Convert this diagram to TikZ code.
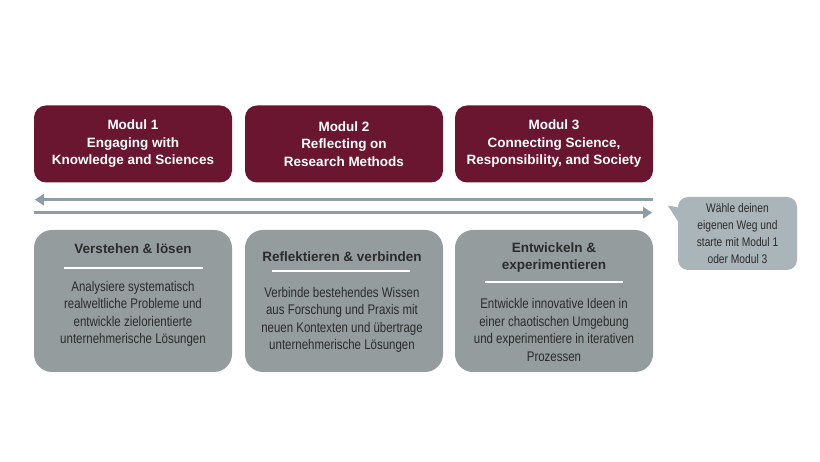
\documentclass[tikz,border=0pt]{standalone}
\usepackage{fontspec}
\setmainfont{Liberation Sans}
\newfontfamily\narrowfont[FakeStretch=0.82]{Liberation Sans}
\usetikzlibrary{arrows.meta, positioning, calc}
\definecolor{modred}{HTML}{6A1631}
\definecolor{boxgray}{HTML}{959C9E}
\definecolor{callgray}{HTML}{AAB5B9}
\definecolor{arrowgray}{HTML}{8E9DA5}
\definecolor{darktext}{HTML}{2B2B2B}

\begin{document}
\begin{tikzpicture}[x=1pt, y=-1pt,
        modul/.style={rectangle, rounded corners=12pt, fill=modred, text=white, minimum width=198pt, minimum height=77pt, align=center, font=\fontsize{13.5}{17.5}\selectfont\bfseries},
        aufgabe/.style={rectangle, rounded corners=18pt, fill=boxgray, minimum width=198pt, minimum height=142pt},
        heading/.style={align=center, text=darktext, inner sep=0pt, font=\fontsize{13.5}{17}\selectfont\bfseries},
        body/.style={align=center, text=darktext, inner sep=0pt, font=\narrowfont\fontsize{14}{17.5}\selectfont},
        sepline/.style={white, line width=2pt},
        weg/.style={arrowgray, line width=3pt, -{Triangle[length=9pt, width=11pt]}},
        hinweis/.style={rectangle, rounded corners=10pt, fill=callgray, minimum width=119pt, minimum height=73pt, align=center, text=darktext, font=\narrowfont\fontsize{12.5}{17}\selectfont}
    ]
    \useasboundingbox (0,0) rectangle (820,462);
    \fill[white] (0,0) rectangle (820,462);
    % Module
    \node[modul] (m1) at (133,144) {Modul 1\\Engaging with\\Knowledge and Sciences};
    \node[modul] (m2) at (344,144) {Modul 2\\Reflecting on\\Research Methods};
    \node[modul] (m3) at (554,144) {Modul 3\\Connecting Science,\\Responsibility, and Society};
    % Lernziele
    \node[aufgabe] (g1) at (133,301) {};
    \node[aufgabe] (g2) at (344,301) {};
    \node[aufgabe] (g3) at (554,301) {};
    % Box 1
    \node[heading] (h1) at (133,249) {Verstehen \& lösen};
    \draw[sepline] (64,268) -- (203,268);
    \node[body] (b1) at (133,314) {Analysiere systematisch\\realweltliche Probleme und\\entwickle zielorientierte\\unternehmerische Lösungen};
    % Box 2
    \node[heading] (h2) at (342,257) {Reflektieren \& verbinden};
    \draw[sepline] (272,271) -- (410,271);
    \node[body] (b2) at (342,320) {Verbinde bestehendes Wissen\\aus Forschung und Praxis mit\\neuen Kontexten und übertrage\\unternehmerische Lösungen};
    % Box 3
    \node[heading] (h3) at (554,258) {Entwickeln \&\\experimentieren};
    \draw[sepline] (485,282) -- (623,282);
    \node[body] (b3) at (554,330) {Entwickle innovative Ideen in\\einer chaotischen Umgebung\\und experimentiere in iterativen\\Prozessen};
    % Wege
    \coordinate (lstart) at ($(m3.south east)+(0,17)$);
    \coordinate (lend) at ($(m1.south west)+(1,17)$);
    \coordinate (rstart) at ($(m1.south west)+(0,30)$);
    \coordinate (rend) at ($(m3.south east)+(-1,30)$);
    \draw[weg] (lstart) -- (lend);
    \draw[weg] (rstart) -- (rend);
    % Hinweis
    \node[hinweis] (tip) at (737.5,233.5) {Wähle deinen\\eigenen Weg und\\starte mit Modul 1\\oder Modul 3};
    \fill[callgray] ($(tip.west)+(-10,-28)$) -- ($(tip.west)+(6,-25)$) -- ($(tip.west)+(6,-3)$) -- cycle;
\end{tikzpicture}
\end{document}
